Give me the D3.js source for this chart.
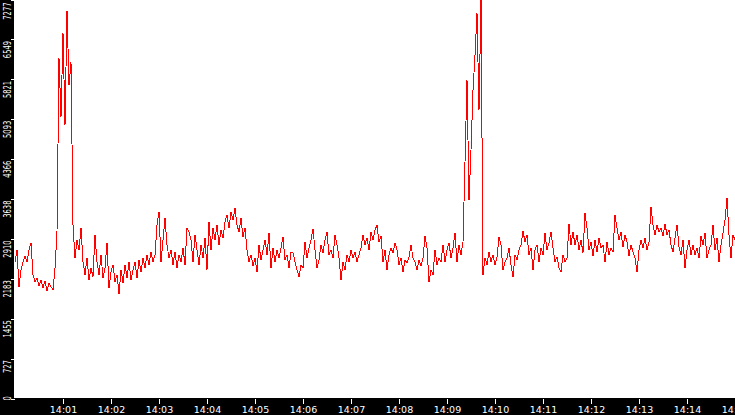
<!DOCTYPE html>
<html lang="en">
<head>
    <meta charset="UTF-8"/>
    <title>Rate over time</title>
    <script src="https://d3js.org/d3.v7.min.js"></script>
    <style>
        body { margin: 0; background: #fff; }
        svg { display: block; }
        .axis text { font-family: "DejaVu Sans", sans-serif; fill: #fff; }
        .axis line { stroke: #fff; shape-rendering: crispEdges; }
        .axis path { display: none; }
    </style>
</head>
<body>

    <div id="chart"></div>

    <script>
        // one sample every 2.5 s, starting at 14:00:00
        var startTime = "14:00:00";
        var sampleSeconds = 2.5;

        var values = [
            2492, 2711, 2037, 2347, 2492, 2601, 2492, 2711, 2838, 2256,
            2128, 2201, 2055, 2165, 2019, 2146, 1964, 2110, 2037, 1983,
            2383, 3038, 6203, 5130, 6658, 4984, 7076, 5712, 6130, 3165,
            2565, 2892, 2711, 3111, 2492, 2256, 2565, 2165, 2383, 2219,
            2983, 2492, 2256, 2620, 2201, 2383, 2838, 2019, 2310, 2438,
            2128, 2256, 1910, 2347, 2110, 2438, 2201, 2492, 2165, 2347,
            2492, 2201, 2529, 2310, 2565, 2383, 2620, 2438, 2674, 2492,
            2620, 3165, 3402, 2492, 2892, 3293, 2802, 2565, 2711, 2438,
            2674, 2383, 2620, 2492, 2747, 2438, 3111, 3038, 2892, 2492,
            2983, 2711, 2438, 2802, 2565, 2929, 2347, 3220, 2711, 3111,
            2892, 3165, 2802, 3074, 2929, 3220, 3347, 3111, 3402, 3256,
            3475, 3165, 3038, 3293, 2947, 3111, 2711, 2492, 2620, 2419,
            2565, 2310, 2802, 2529, 2711, 2892, 2620, 3020, 2383, 2747,
            2492, 2711, 2565, 2747, 2947, 2529, 2620, 2383, 2674, 2656,
            2492, 2347, 2219, 2438, 2383, 2856, 2565, 2747, 2892, 3093,
            2711, 2383, 2529, 2802, 2656, 2892, 3038, 2620, 2711, 2565,
            2983, 2802, 2565, 2165, 2492, 2347, 2620, 2492, 2711, 2565,
            2674, 2492, 2620, 2747, 2983, 2802, 2929, 2711, 3038, 2892,
            3074, 3165, 2856, 2965, 2492, 2711, 2347, 2620, 2747, 2656,
            2838, 2711, 2438, 2565, 2310, 2529, 2474, 2583, 2802, 2565,
            2492, 2347, 2529, 2419, 2565, 2965, 2747, 2128, 2347, 2256,
            2711, 2438, 2565, 2492, 2802, 2492, 2711, 2838, 2565, 2747,
            3020, 2492, 2802, 2620, 2856, 4311, 5803, 3620, 4529, 5621,
            6258, 7022, 5257, 7277, 2256, 2565, 2438, 2674, 2492, 2620,
            2438, 2583, 2947, 2802, 2347, 2492, 2565, 2747, 2438, 2219,
            2620, 2529, 2711, 2802, 3056, 2856, 2983, 2620, 2747, 2347,
            2711, 2802, 2492, 2747, 2620, 3020, 2711, 2838, 3038, 2747,
            2492, 2583, 2383, 2310, 2620, 2492, 2565, 3184, 2802, 3038,
            2802, 2983, 2711, 2892, 2656, 3384, 3111, 2711, 2856, 2601,
            2892, 2674, 2929, 2747, 2802, 2492, 2856, 2620, 2747, 2674,
            3347, 3111, 2892, 3038, 2765, 2983, 2856, 2601, 2802, 2674,
            2565, 2310, 2711, 2892, 2747, 2929, 2711, 2856, 3493, 3165,
            2983, 3165, 3038, 3111, 2965, 3184, 2983, 3074, 2802, 2674,
            2929, 3165, 2765, 2620, 2892, 2383, 2711, 2892, 2620, 2802,
            2620, 2747, 2565, 2965, 2802, 3020, 2565, 2711, 2802, 3165,
            2711, 2929, 2492, 2802, 3020, 3256, 3657, 2983, 2565, 2983,
            2892
        ];

        var yMax = 7277.7;
        var yTickLabels = ["0", "727", "1455", "2183", "2910", "3638", "4366", "5093", "5821", "6549", "7277"];
        var xTickLabels = ["14:01", "14:02", "14:03", "14:04", "14:05", "14:06", "14:07", "14:08",
                           "14:09", "14:10", "14:11", "14:12", "14:13", "14:14", "14:15"];

        var w = 735;
        var h = 415;
        var plotLeft = 14;
        var plotBottom = 398;

        var parseTime = d3.timeParse("%H:%M:%S");
        var t0 = parseTime(startTime);

        var data = values.map(function(v, i) {
            return { t: new Date(t0.getTime() + i * sampleSeconds * 1000), v: v };
        });

        var xScale = d3.scaleTime()
                        .domain([t0, data[data.length - 1].t])
                        .range([plotLeft + 1, w]);

        var yScale = d3.scaleLinear()
                        .domain([0, yMax])
                        .range([plotBottom + 0.5, -0.5]);

        var svg = d3.select("#chart")
                    .append("svg")
                    .attr("width", w)
                    .attr("height", h);

        svg.append("rect").attr("width", w).attr("height", h).attr("fill", "#fff");

        svg.append("clipPath").attr("id", "plot")
            .append("rect")
            .attr("x", plotLeft).attr("y", 0)
            .attr("width", w - plotLeft).attr("height", plotBottom);

        var line = d3.line()
                    .x(function(d) { return xScale(d.t); })
                    .y(function(d) { return yScale(d.v); });

        svg.append("path")
            .datum(data)
            .attr("clip-path", "url(#plot)")
            .attr("d", line)
            .attr("fill", "none")
            .attr("stroke", "#ff0000")
            .attr("stroke-width", 1)
            .style("shape-rendering", "crispEdges");

        // black bands behind the axes
        svg.append("rect").attr("x", 0).attr("y", 0)
            .attr("width", plotLeft).attr("height", h).attr("fill", "#000");
        svg.append("rect").attr("x", 0).attr("y", plotBottom)
            .attr("width", w).attr("height", h - plotBottom).attr("fill", "#000");

        // x axis
        var xAxis = d3.axisBottom(xScale)
                        .tickValues(xTickLabels.map(function(d) { return parseTime(d + ":00"); }))
                        .tickFormat(d3.timeFormat("%H:%M"))
                        .tickSize(5)
                        .tickSizeOuter(0)
                        .tickPadding(3);

        svg.append("g")
            .attr("class", "axis")
            .attr("transform", "translate(0," + (plotBottom + 0.5) + ")")
            .call(xAxis)
            .selectAll("text")
            .style("font-size", "9.5px");

        // y axis, labels turned to read upwards
        var yAxis = d3.axisLeft(yScale)
                        .tickValues(yTickLabels.map(Number))
                        .tickFormat(function(d, i) { return yTickLabels[i]; })
                        .tickSize(4)
                        .tickSizeOuter(0);

        var gy = svg.append("g")
                    .attr("class", "axis")
                    .attr("transform", "translate(" + (plotLeft + 1) + ",0)")
                    .call(yAxis);

        gy.selectAll("text")
            .each(function(d, i) {
                var len = yTickLabels[i].length * 4.3;
                var ty = yScale(d);
                var top = Math.max(ty + 1, 2);
                if (top + len > plotBottom + 2) top = plotBottom + 2 - len;
                d3.select(this)
                    .attr("transform", "rotate(-90)")
                    .attr("x", -(top - ty))
                    .attr("y", -4.5)
                    .attr("dy", null)
                    .attr("text-anchor", "end")
                    .attr("textLength", len)
                    .attr("lengthAdjust", "spacingAndGlyphs")
                    .style("font-size", "10.5px");
            });
    </script>

</body>
</html>
